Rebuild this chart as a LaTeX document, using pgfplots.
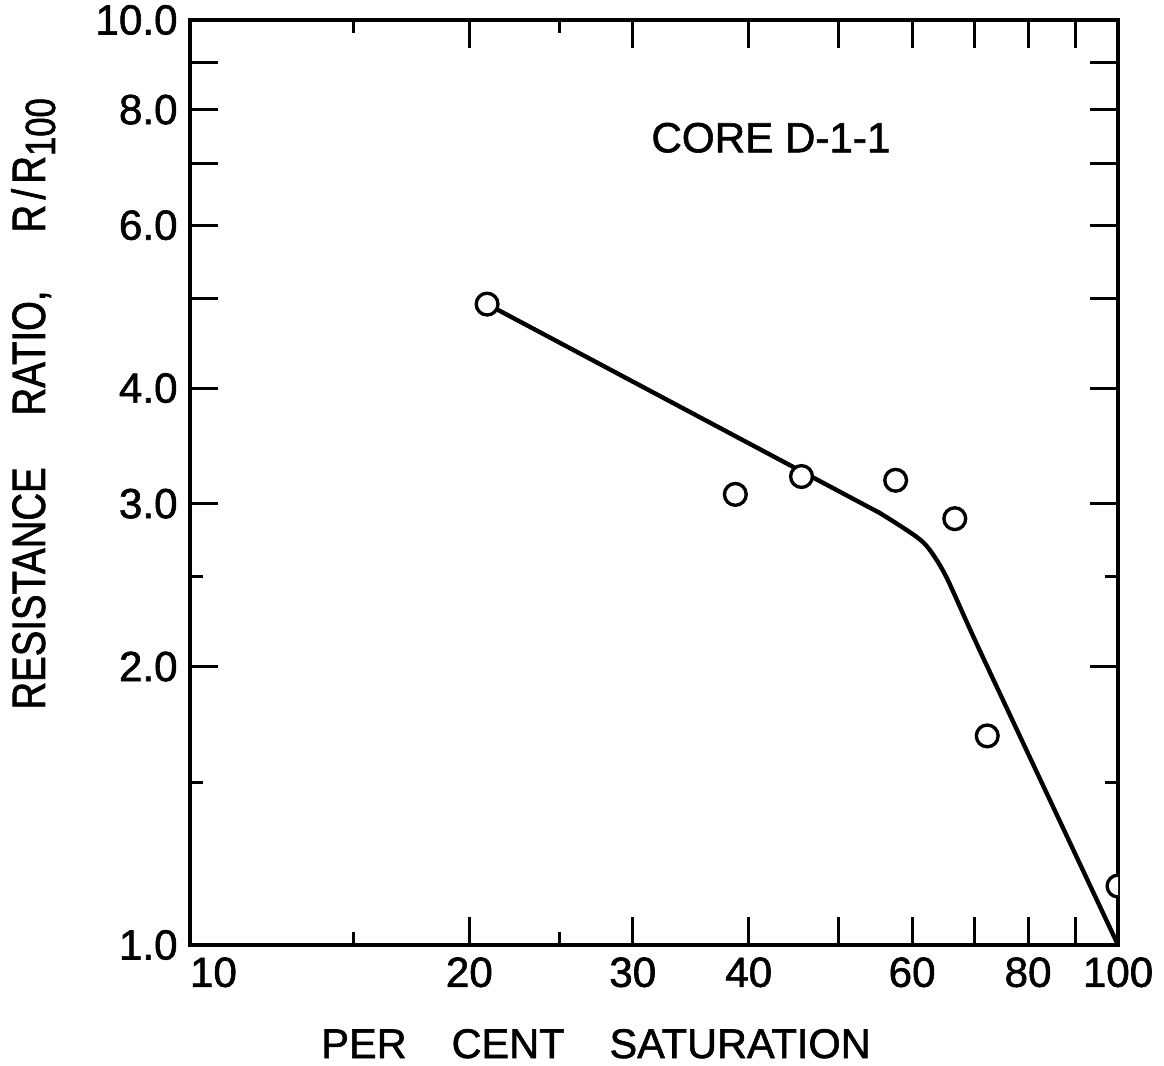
\documentclass[border=0pt]{standalone}
\usepackage{fontspec}
\setmainfont{Liberation Sans}[FakeBold=1.4]
\newfontfamily\narrowfont{Liberation Sans}[FakeStretch=0.82, FakeBold=1.4]
\usepackage{pgfplots}
\pgfplotsset{compat=1.18}

\begin{document}
\begin{tikzpicture}
% 1 px of the reference = 0.01cm
\useasboundingbox (-1.90cm,-1.21cm) rectangle (9.74cm,9.45cm);
\begin{axis}[
    at={(0,0)}, anchor=south west,
    scale only axis, width=9.28cm, height=9.25cm,
    xmode=log, ymode=log,
    xmin=10, xmax=100, ymin=1, ymax=10,
    xtick={10,20,30,40,50,60,70,80,90,100},
    xticklabels={\rlap{10},20,30,40,,60,,80,,100},
    minor xtick={15,25},
    ytick={1,2,3,4,5,6,7,8,9,10},
    yticklabels={1.0,2.0,3.0,4.0,,6.0,,8.0,,10.0},
    minor ytick={1.5,2.5},
    tick align=inside,
    major tick length=0.28cm, minor tick length=0.13cm,
    every tick/.style={black, line width=0.85pt},
    axis line style={line width=1.1pt},
    tick label style={font=\fontsize{12}{12}\selectfont},
    /pgf/number format/assume math mode=true,
    clip mode=individual,
    clip marker paths=true,
]
\addplot[black, line width=1.25pt, smooth, tension=0.45] coordinates {
    (20.9,4.93) (51.4,3.05) (55.8,2.917) (60.7,2.761) (62.7,2.673)
    (65.4,2.493) (71.5,2.048) (100,1.0)
};
\addplot[only marks, mark=*, mark size=3.1pt,
    mark options={fill=white, draw=black, line width=0.95pt}] coordinates {
    (20.9,4.93) (38.7,3.07) (45.6,3.21) (57.6,3.18) (66.7,2.89)
    (72.3,1.683) (100,1.158)
};
\node[anchor=base, font=\fontsize{12}{12}\selectfont] at (rel axis cs:0.626,0.857) {CORE D-1-1};
\node[anchor=base, font=\fontsize{11.8}{12}\selectfont]
    at (rel axis cs:0.4375,-0.1222) {PER\hspace{0.45cm}CENT\hspace{0.45cm}SATURATION};
\node[rotate=90, anchor=base, font=\fontsize{13.3}{13}\selectfont\narrowfont]
    at (rel axis cs:-0.1563,0.585)
    {RESISTANCE\hspace{0.52cm}RATIO,\hspace{0.58cm}R\hspace{1.5pt}/\hspace{1.5pt}R\raisebox{-0.1cm}{\fontsize{12}{12}\selectfont 100}};
\end{axis}
\end{tikzpicture}
\end{document}
